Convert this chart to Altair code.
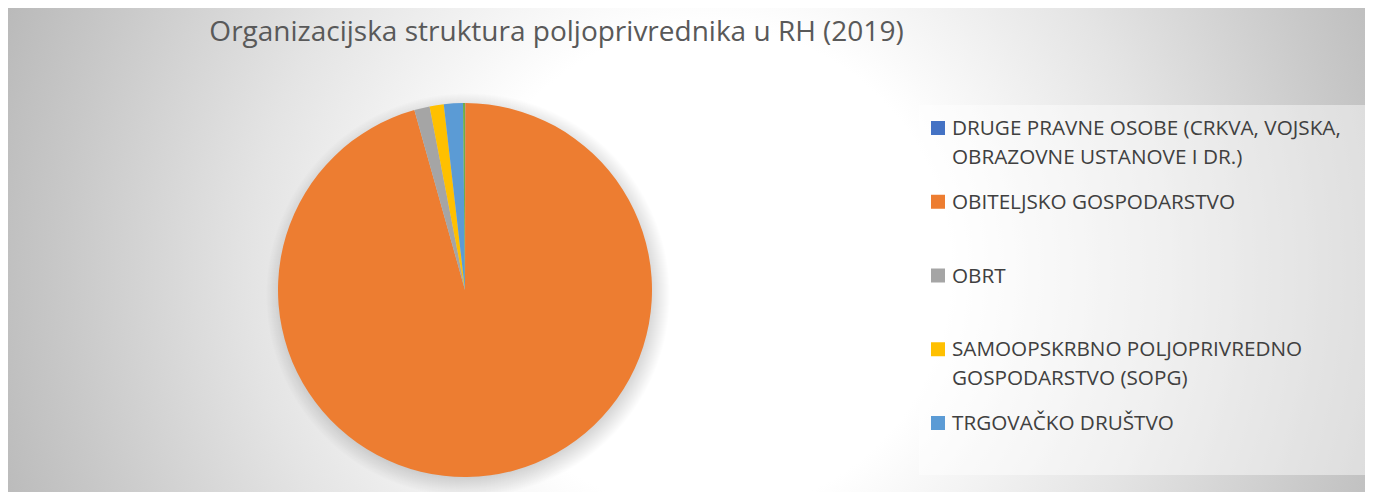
import altair as alt
import pandas as pd

categories = [
    "DRUGE PRAVNE OSOBE (CRKVA, VOJSKA, OBRAZOVNE USTANOVE I DR.)",
    "OBITELJSKO GOSPODARSTVO",
    "OBRT",
    "SAMOOPSKRBNO POLJOPRIVREDNO GOSPODARSTVO (SOPG)",
    "TRGOVAČKO DRUŠTVO",
    "ZADRUGA",
]
values = [50, 160000, 2230, 2040, 2750, 285]
colors = ["#4472C4", "#ED7D31", "#A5A5A5", "#FFC000", "#5B9BD5", "#70AD47"]
legend_labels = [
    "DRUGE PRAVNE OSOBE (CRKVA, VOJSKA,|OBRAZOVNE USTANOVE I DR.)",
    "OBITELJSKO GOSPODARSTVO",
    "OBRT",
    "SAMOOPSKRBNO POLJOPRIVREDNO|GOSPODARSTVO (SOPG)",
    "TRGOVAČKO DRUŠTVO",
]
title_text = "Organizacijska struktura poljoprivrednika u RH (2019)"

W, H = 1357, 484
CX, CY, R = 457, 282, 187

df = pd.DataFrame({"kategorija": categories, "broj": values, "red": list(range(len(categories)))})
leg = pd.DataFrame({"kategorija": categories[:5], "oznaka": legend_labels})
one = pd.DataFrame({"k": [0]})

color_scale = alt.Scale(domain=categories, range=colors)

bg = alt.Chart(one).mark_rect(
    clip=True,
    fill=alt.RadialGradient(
        gradient="radial", x1=0.5, y1=0.5, r1=0, x2=0.5, y2=0.5, r2=0.5,
        stops=[
            alt.GradientStop(offset=0, color="#ffffff"),
            alt.GradientStop(offset=0.32, color="#ffffff"),
            alt.GradientStop(offset=0.6, color="#e4e4e4"),
            alt.GradientStop(offset=0.85, color="#c8c8c8"),
            alt.GradientStop(offset=1, color="#b8b8b8"),
        ],
    ),
).encode(x=alt.value(700 - 760), x2=alt.value(700 + 760), y=alt.value(262 - 760), y2=alt.value(262 + 760))

legbox = alt.Chart(one).mark_rect(fill="#ffffff", fillOpacity=0.45).encode(
    x=alt.value(911), x2=alt.value(1358), y=alt.value(97), y2=alt.value(467)
)

shadow = alt.Chart(one).mark_arc(
    theta=0, theta2=6.2832, radius=202,
    fill=alt.RadialGradient(
        gradient="radial", x1=0.5, y1=0.5, r1=0, x2=0.5, y2=0.5, r2=0.5,
        stops=[
            alt.GradientStop(offset=0, color="rgba(0,0,0,0.22)"),
            alt.GradientStop(offset=0.9, color="rgba(0,0,0,0.16)"),
            alt.GradientStop(offset=1, color="rgba(0,0,0,0)"),
        ],
    ),
).encode(x=alt.value(CX + 3), y=alt.value(CY + 5))

pie = alt.Chart(df).mark_arc(radius=R).encode(
    theta=alt.Theta("broj:Q", stack=True),
    order=alt.Order("red:O"),
    color=alt.Color("kategorija:N", scale=color_scale, legend=None),
    x=alt.value(CX),
    y=alt.value(CY),
)

ypos = alt.Y("kategorija:N", sort=categories[:5], axis=None,
             scale=alt.Scale(range=[120, 415], padding=0))

leg_sym = alt.Chart(leg).mark_square(size=196, opacity=1).encode(
    x=alt.value(930), y=ypos,
    color=alt.Color("kategorija:N", scale=color_scale, legend=None),
)
leg_txt = alt.Chart(leg).mark_text(
    align="left", baseline="alphabetic", dy=7, lineBreak="|", lineHeight=29,
    font="Open Sans", fontSize=20.7, color="#404040",
).encode(x=alt.value(944), y=ypos, text="oznaka:N")

chart = alt.layer(bg, legbox, shadow, pie, leg_sym, leg_txt).properties(
    width=W, height=H, autosize="none", padding=0,
    title=alt.TitleParams(
        title_text, font="Open Sans", fontSize=28, fontWeight="normal", color="#595959",
        anchor="middle", frame="group", dx=-130, dy=26, offset=-35, baseline="alphabetic",
    ),
).configure_view(stroke=None)

chart.save("out.html", embed_options={"renderer": "svg", "actions": False})
